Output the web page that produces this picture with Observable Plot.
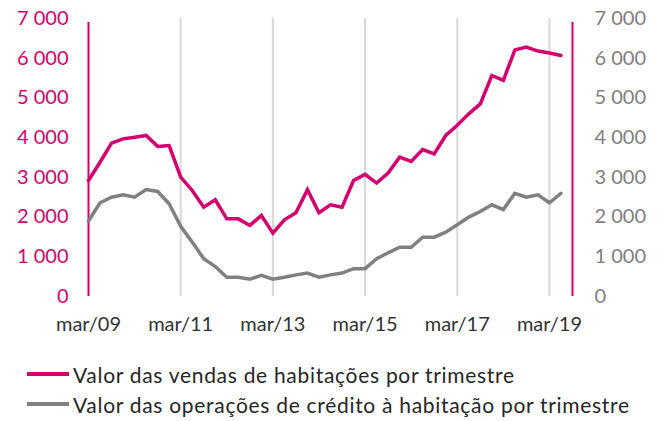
<!DOCTYPE html>
<html>
<head>
<meta charset="utf-8">
<script src="https://cdn.jsdelivr.net/npm/d3@7"></script>
<script src="https://cdn.jsdelivr.net/npm/@observablehq/plot@0.6"></script>
<style>
  html, body { margin: 0; padding: 0; background: #fff; }
  body { width: 664px; height: 421px; overflow: hidden; font-family: Lato, "Open Sans", sans-serif; }
  #legend { position: absolute; left: 27px; top: 359px; }
  .item { display: flex; align-items: center; height: 30px; font-size: 21px; letter-spacing: 0.7px; color: #262626; white-space: nowrap; }
  .sw { width: 42px; height: 4px; margin-right: 4px; }
</style>
</head>
<body>
<div id="chart"></div>
<div id="legend"></div>
<script>
// Quarterly values, mar/09 .. jun/19 (index 0 = mar/09)
const vendas = [2920, 3380, 3860, 3970, 4010, 4055, 3780, 3800, 3005, 2670,
  2250, 2435, 1955, 1955, 1790, 2040, 1595, 1930, 2110, 2690,
  2110, 2310, 2250, 2920, 3075, 2855, 3110, 3510, 3400, 3700,
  3590, 4055, 4310, 4600, 4850, 5565, 5440, 6210, 6280, 6180,
  6130, 6070];
const credito = [1900, 2360, 2500, 2560, 2500, 2695, 2645, 2335, 1765, 1370,
  950, 755, 485, 485, 435, 530, 435, 485, 545, 590,
  485, 545, 590, 700, 700, 950, 1100, 1240, 1240, 1495,
  1495, 1620, 1805, 2000, 2140, 2310, 2190, 2600, 2500, 2560,
  2360, 2600];
const tickLabels = ["mar/09", "mar/11", "mar/13", "mar/15", "mar/17", "mar/19"];
const tickIndex = [0, 8, 16, 24, 32, 40];
const yTicks = [0, 1000, 2000, 3000, 4000, 5000, 6000, 7000];
const seriesNames = ["Valor das vendas de habitações por trimestre",
  "Valor das operações de crédito à habitação por trimestre"];
const colors = ["#d4006f", "#808080"];

const rows = [];
vendas.forEach((v, i) => rows.push({i, v, s: seriesNames[0]}));
credito.forEach((v, i) => rows.push({i, v, s: seriesNames[1]}));

const fmt = d => d3.format(",")(d).replace(/,/g, " ");
const nQ = vendas.length; // 42 -> axis ends one step after last point

const chart = Plot.plot({
  width: 664,
  height: 340,
  marginLeft: 88,
  marginRight: 92,
  marginTop: 18,
  marginBottom: 44,
  style: {fontFamily: "Lato, 'Open Sans', sans-serif", fontSize: "20px", background: "#fff"},
  x: {domain: [0, nQ], axis: null},
  y: {domain: [0, 7000], axis: null},
  color: {domain: seriesNames, range: colors},
  marks: [
    Plot.ruleX(tickIndex.slice(1), {stroke: "#d9d9d9", strokeWidth: 2}),
    Plot.ruleX([0, nQ], {stroke: colors[0], strokeWidth: 2, y1: 0, y2: 7000, insetBottom: -4}),
    Plot.axisY({anchor: "left", label: null, ticks: yTicks, tickSize: 0, tickPadding: 20, tickFormat: fmt, fill: colors[0], fontSize: 20}),
    Plot.axisY({anchor: "right", label: null, ticks: yTicks, tickSize: 0, tickPadding: 22, tickFormat: fmt, fill: "#7f7f7f", fontSize: 20}),
    Plot.axisX({label: null, ticks: tickIndex, tickSize: 0, tickPadding: 20, tickFormat: (d, k) => tickLabels[k], fill: "#333", fontSize: 20}),
    Plot.line(rows, {x: "i", y: "v", z: "s", stroke: "s", strokeWidth: 3.5, strokeLinejoin: "miter", strokeMiterlimit: 3})
  ]
});
document.getElementById("chart").appendChild(chart);

const legend = document.getElementById("legend");
seriesNames.forEach((name, k) => {
  const it = document.createElement("div");
  it.className = "item";
  const sw = document.createElement("span");
  sw.className = "sw";
  sw.style.background = colors[k];
  const t = document.createElement("span");
  t.textContent = name;
  it.appendChild(sw); it.appendChild(t);
  legend.appendChild(it);
});
</script>
</body>
</html>
